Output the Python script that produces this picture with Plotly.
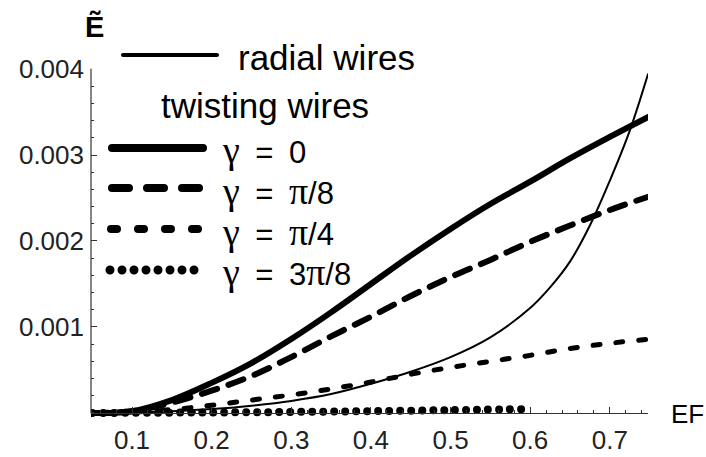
import plotly.graph_objects as go

# ---------------- data ----------------
ef_grid = [0.05, 0.10, 0.15, 0.20, 0.25, 0.30, 0.35, 0.40, 0.45, 0.50, 0.55, 0.60, 0.65, 0.70, 0.75]
e_gamma_0 = [0.0, 0.00002, 0.00015, 0.00035, 0.00058, 0.00086, 0.00117, 0.00150, 0.00183,
             0.00214, 0.00243, 0.00269, 0.00296, 0.00321, 0.00345]
e_gamma_pi8 = [0.0, 0.00002, 0.00012, 0.00026, 0.00043, 0.00065, 0.00089, 0.00112, 0.00136,
               0.00158, 0.00178, 0.00199, 0.00218, 0.00236, 0.00252]
e_gamma_pi4 = [0.0, 0.00001, 0.00004, 0.00009, 0.00015, 0.00021, 0.00028, 0.00036, 0.00045,
               0.00053, 0.00060, 0.00067, 0.00075, 0.00081, 0.00086]
ef_3pi8 = [0.05, 0.10, 0.20, 0.30, 0.40, 0.50, 0.59]
e_gamma_3pi8 = [0.0, 0.000002, 0.000006, 0.000012, 0.000022, 0.000033, 0.000045]
ef_radial = [0.05, 0.10, 0.15, 0.20, 0.25, 0.30, 0.35, 0.40, 0.45, 0.50, 0.55, 0.60,
             0.625, 0.65, 0.675, 0.70, 0.725, 0.748]
e_radial = [0.0, 0.000005, 0.00002, 0.000045, 0.000085, 0.00014, 0.00022, 0.00034, 0.00048,
            0.00065, 0.00088, 0.00122, 0.00146, 0.00176, 0.00218, 0.00270, 0.00328, 0.00394]

x_tick_vals = [0.1, 0.2, 0.3, 0.4, 0.5, 0.6, 0.7]
x_tick_text = ["0.1", "0.2", "0.3", "0.4", "0.5", "0.6", "0.7"]
y_tick_vals = [0.001, 0.002, 0.003, 0.004]
y_tick_text = ["0.001", "0.002", "0.003", "0.004"]

x_label = "EF"
y_label = "Ẽ"
legend_radial = "radial wires"
legend_twist = "twisting wires"
legend_gamma = ["0", "π/8", "π/4", "3π/8"]

# ---------------- layout geometry ----------------
W, H = 706, 457
ML, MR, MT, MB = 91, 58, 69, 38
PW, PH = W - ML - MR, H - MT - MB
X_RANGE = [0.0485, 0.748]
Y_RANGE = [-0.00007, 0.004]


def xp(px):
    return (px - ML) / PW


def yp(py):
    return (H - MB - py) / PH


SANS = "Liberation Sans, Arial, sans-serif"
SERIF = "Liberation Serif"

fig = go.Figure()
fig.add_trace(go.Scatter(x=ef_3pi8, y=e_gamma_3pi8, mode="lines",
                         line=dict(color="black", width=8, dash="0px,11px", shape="spline")))
fig.add_trace(go.Scatter(x=ef_grid, y=e_gamma_pi4, mode="lines",
                         line=dict(color="black", width=5, dash="7px,16px", shape="spline")))
fig.add_trace(go.Scatter(x=ef_grid, y=e_gamma_pi8, mode="lines",
                         line=dict(color="black", width=6, dash="16px,12px", shape="spline")))
fig.add_trace(go.Scatter(x=ef_grid, y=e_gamma_0, mode="lines",
                         line=dict(color="black", width=6, shape="spline")))
fig.add_trace(go.Scatter(x=ef_radial, y=e_radial, mode="lines",
                         line=dict(color="black", width=2, shape="spline")))

axis_color = "#333333"
tick_font = dict(family=SANS, size=26, color="#222222")

fig.update_layout(
    width=W, height=H,
    margin=dict(l=ML, r=MR, t=MT, b=MB, pad=0, autoexpand=False),
    paper_bgcolor="white", plot_bgcolor="white",
    showlegend=False,
    xaxis=dict(range=X_RANGE, anchor="free", automargin=False,
               position=(0 - Y_RANGE[0]) / (Y_RANGE[1] - Y_RANGE[0]),
               showline=True, linecolor=axis_color, linewidth=1.2,
               showgrid=False, zeroline=False,
               tickmode="array", tickvals=x_tick_vals, ticktext=x_tick_text,
               ticks="inside", ticklen=6, tickwidth=1, tickcolor=axis_color,
               ticklabelstandoff=4, tickfont=tick_font,
               minor=dict(tickmode="linear", tick0=0, dtick=0.02, ticks="inside",
                          ticklen=3, tickwidth=1, tickcolor=axis_color)),
    yaxis=dict(range=Y_RANGE, showline=False, showgrid=False, zeroline=False, automargin=False,
               tickmode="array", tickvals=y_tick_vals, ticktext=y_tick_text,
               ticks="inside", ticklen=6, tickwidth=1, tickcolor=axis_color,
               ticklabelstandoff=6, tickfont=tick_font,
               minor=dict(tickmode="linear", tick0=0, dtick=0.0002, ticks="inside",
                          ticklen=3, tickwidth=1, tickcolor=axis_color)),
)

shapes = []
# y axis line (from y=0 to the top)
shapes.append(dict(type="line", xref="paper", yref="paper", x0=0, x1=0,
                   y0=(0 - Y_RANGE[0]) / (Y_RANGE[1] - Y_RANGE[0]), y1=1,
                   line=dict(color=axis_color, width=1.2)))
# legend samples
shapes.append(dict(type="line", xref="paper", yref="paper", x0=xp(123), x1=xp(217),
                   y0=yp(55), y1=yp(55), line=dict(color="black", width=4)))
shapes.append(dict(type="line", xref="paper", yref="paper", x0=xp(112), x1=xp(203),
                   y0=yp(148), y1=yp(148), line=dict(color="black", width=8)))
shapes.append(dict(type="line", xref="paper", yref="paper", x0=xp(112), x1=xp(199),
                   y0=yp(188), y1=yp(188), line=dict(color="black", width=8, dash="17px,18px")))
shapes.append(dict(type="line", xref="paper", yref="paper", x0=xp(111), x1=xp(198),
                   y0=yp(229), y1=yp(229), line=dict(color="black", width=8, dash="6px,21px")))
shapes.append(dict(type="line", xref="paper", yref="paper", x0=xp(110), x1=xp(198),
                   y0=yp(270), y1=yp(270), line=dict(color="black", width=9, dash="0px,12px")))
fig.update_layout(shapes=shapes)

annotations = []
annotations.append(dict(text="<b>" + y_label + "</b>", xref="paper", yref="paper",
                        x=xp(94), y=yp(26), xanchor="center", yanchor="middle", showarrow=False,
                        font=dict(family=SANS, size=29, color="black")))
annotations.append(dict(text=x_label, xref="paper", yref="paper",
                        x=xp(669), y=yp(414), xanchor="left", yanchor="middle", showarrow=False,
                        font=dict(family=SANS, size=26, color="black")))
annotations.append(dict(text=legend_radial, xref="paper", yref="paper",
                        x=xp(236), y=yp(57), xanchor="left", yanchor="middle", showarrow=False,
                        font=dict(family=SANS, size=35, color="black")))
annotations.append(dict(text=legend_twist, xref="paper", yref="paper",
                        x=xp(159), y=yp(105), xanchor="left", yanchor="middle", showarrow=False,
                        font=dict(family=SANS, size=35, color="black")))


def greekify(s):
    return s.replace("π", '<span style="font-family:%s;font-size:38px">π</span>' % SERIF)


gamma_rows_py = [150, 191, 232, 272]
for lab, py in zip(legend_gamma, gamma_rows_py):
    txt = ('<span style="font-family:%s;font-size:38px">γ</span>\u2002=\u2002' % SERIF) + greekify(lab)
    annotations.append(dict(text=txt, xref="paper", yref="paper",
                            x=xp(220), y=yp(py), xanchor="left", yanchor="middle", showarrow=False,
                            font=dict(family=SANS, size=31, color="black")))
fig.update_layout(annotations=annotations)

post = ("var s=document.createElement('style');"
        "s.textContent='html,body{margin:0;padding:0;}"
        "path.js-line,.shapelayer path{stroke-linecap:round !important;"
        "stroke-linejoin:round !important;}';"
        "document.head.appendChild(s);")
fig.write_html("out.html", post_script=post,
               config={"displayModeBar": False, "staticPlot": True})
